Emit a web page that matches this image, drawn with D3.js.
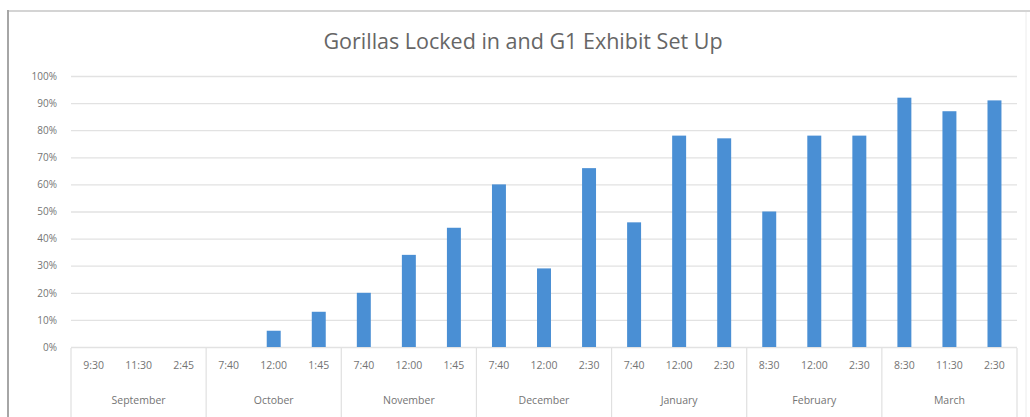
<!DOCTYPE html>
<html>
<head>
<meta charset="utf-8">
<script src="https://cdn.jsdelivr.net/npm/d3@7"></script>
<style>
  html, body { margin: 0; padding: 0; background: #fff; }
  svg { display: block; font-family: "Open Sans", "Liberation Sans", sans-serif; }
</style>
</head>
<body>
<svg id="chart" width="1030" height="417"></svg>
<script>
// Months and the session times recorded in each month
const months = ["September", "October", "November", "December", "January", "February", "March"];
const times = [
  ["9:30", "11:30", "2:45"],
  ["7:40", "12:00", "1:45"],
  ["7:40", "12:00", "1:45"],
  ["7:40", "12:00", "2:30"],
  ["7:40", "12:00", "2:30"],
  ["8:30", "12:00", "2:30"],
  ["8:30", "11:30", "2:30"]
];
// Share of sessions with gorillas locked in and G1 exhibit set up
const values = [
  [0, 0, 0],
  [0, 0.06, 0.13],
  [0.20, 0.34, 0.44],
  [0.60, 0.29, 0.66],
  [0.46, 0.78, 0.77],
  [0.50, 0.78, 0.78],
  [0.92, 0.87, 0.91]
];
const yTicks = [0, 0.1, 0.2, 0.3, 0.4, 0.5, 0.6, 0.7, 0.8, 0.9, 1.0];

// Flatten into one row per bar
const rows = [];
months.forEach((m, i) => {
  times[i].forEach((t, j) => {
    rows.push({ key: i + "-" + j, month: m, monthIndex: i, time: t, value: values[i][j] });
  });
});

const svg = d3.select("#chart");
const W = 1030, H = 417;
const plot = { left: 71, right: 1017, top: 76, bottom: 347 };

// Chart frame
svg.append("rect").attr("x", 0).attr("y", 0).attr("width", W).attr("height", H).attr("fill", "#fff");
svg.append("line").attr("x1", 8).attr("x2", W).attr("y1", 11).attr("y2", 11)
  .attr("stroke", "#d4d4d4").attr("stroke-width", 2);
svg.append("line").attr("x1", 8).attr("x2", 8).attr("y1", 10).attr("y2", H)
  .attr("stroke", "#a6a6a6").attr("stroke-width", 2);
svg.append("line").attr("x1", 1026).attr("x2", 1026).attr("y1", 12).attr("y2", H)
  .attr("stroke", "#ececec").attr("stroke-width", 1);

// Title
svg.append("text")
  .attr("x", 523).attr("y", 49)
  .attr("text-anchor", "middle")
  .attr("font-size", 21.5)
  .attr("fill", "#666")
  .text("Gorillas Locked in and G1 Exhibit Set Up");

const x = d3.scaleBand()
  .domain(rows.map(d => d.key))
  .range([plot.left, plot.right])
  .paddingInner(0.69)
  .paddingOuter(0.345);

const y = d3.scaleLinear().domain([0, 1]).range([plot.bottom, plot.top]);

// Gridlines and percentage labels
const yAxis = d3.axisLeft(y)
  .tickValues(yTicks)
  .tickFormat(d3.format(".0%"))
  .tickSize(-(plot.right - plot.left))
  .tickPadding(14);
const yg = svg.append("g").attr("transform", `translate(${plot.left},0)`).call(yAxis);
yg.select(".domain").remove();
yg.selectAll(".tick line").attr("stroke", "#e2e2e2").attr("stroke-width", 1.3);
yg.selectAll(".tick text").attr("fill", "#747474").attr("font-size", 10).attr("font-family", "Open Sans, sans-serif");

// Bars
svg.append("g").selectAll("rect")
  .data(rows)
  .join("rect")
  .attr("x", d => x(d.key))
  .attr("width", x.bandwidth())
  .attr("y", d => y(d.value))
  .attr("height", d => y(0) - y(d.value))
  .attr("fill", "#4a8fd4");

// Two-level category axis: session times, then months
const step = x.step();
const catStart = i => plot.left + i * step;
const axisG = svg.append("g");

const xAxis = d3.axisBottom(x)
  .tickFormat(k => rows.find(r => r.key === k).time)
  .tickSize(0)
  .tickPadding(15);
const xg = svg.append("g").attr("transform", `translate(0,${plot.bottom})`).call(xAxis);
xg.select(".domain").remove();
xg.selectAll(".tick text").attr("fill", "#747474").attr("font-size", 10.5).attr("font-family", "Open Sans, sans-serif");

// Month dividers
const dividers = d3.range(months.length + 1).map(i => catStart(i * 3));
axisG.selectAll("line.div")
  .data(dividers)
  .join("line")
  .attr("class", "div")
  .attr("x1", d => d).attr("x2", d => d)
  .attr("y1", plot.bottom + 1).attr("y2", H)
  .attr("stroke", "#e0e0e0").attr("stroke-width", 1.2);

// Month labels
axisG.selectAll("text.month")
  .data(months)
  .join("text")
  .attr("class", "month")
  .attr("x", (m, i) => catStart(i * 3) + step * 1.5)
  .attr("y", 404)
  .attr("text-anchor", "middle")
  .attr("font-size", 10.5)
  .attr("fill", "#747474")
  .text(m => m);
</script>
</body>
</html>
